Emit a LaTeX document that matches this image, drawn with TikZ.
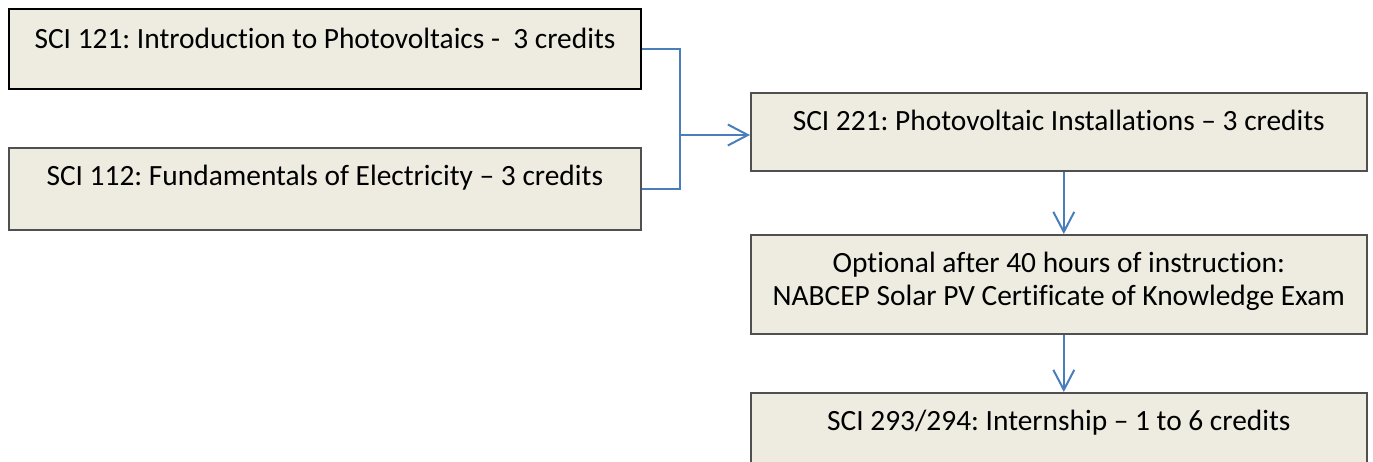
\documentclass[tikz,border=0pt]{standalone}
\usepackage{fontspec}
\setmainfont{Carlito}[Ligatures=NoCommon]
\usepackage{xcolor}
\usetikzlibrary{arrows.meta, positioning}
\definecolor{boxfill}{RGB}{238,236,225}
\definecolor{boxline}{RGB}{80,80,80}
\definecolor{linkblue}{RGB}{74,126,187}
\frenchspacing

\begin{document}
\begin{tikzpicture}[x=1pt, y=1pt, >={Straight Barb[length=20pt,width=21pt]},
  every node/.style={font=\fontsize{29.4}{33}\selectfont},
  course/.style={draw=boxline, line width=1.6pt, fill=boxfill, anchor=north west,
    inner xsep=0pt, inner ysep=0pt, align=center, text height=38pt},
  link/.style={draw=linkblue, line width=2pt}]

\useasboundingbox (0,0) rectangle (1373,-461);

% left column
\node[course, draw=black, line width=2pt, minimum width=632pt, text height=39pt, text depth=41pt] (sci121) at (8,-8)
  {SCI 121: Introduction to Photovoltaics -\ \ 3 credits};
\node[course, minimum width=632pt, text depth=44pt] (sci112) at (8,-147)
  {SCI 112: Fundamentals of Electricity -- 3 credits};

% right column
\node[course, minimum width=616pt, text depth=40pt] (sci221) at (750,-92)
  {SCI 221: Photovoltaic Installations -- 3 credits};
\node[course, minimum width=616pt, text height=71pt, text depth=28pt] (nabcep) at (750,-234)
  {Optional after 40 hours of instruction:\\NABCEP Solar PV Certificate of Knowledge Exam};
\node[course, minimum width=616pt, text depth=70pt] (sci293) at (750,-392)
  {SCI 293/294: Internship -- 1 to 6 credits};

% connectors
\coordinate (join) at (680,-135);
\draw[link] (sci121.east) -| (join);
\draw[link] (sci112.east) -| (join);
\draw[link, ->] (join) -- (join -| sci221.west);
\draw[link, ->] ([xshift=5pt]sci221.south) -- ([xshift=5pt]nabcep.north);
\draw[link, ->] ([xshift=5pt]nabcep.south) -- ([xshift=5pt]sci293.north);

\end{tikzpicture}
\end{document}
